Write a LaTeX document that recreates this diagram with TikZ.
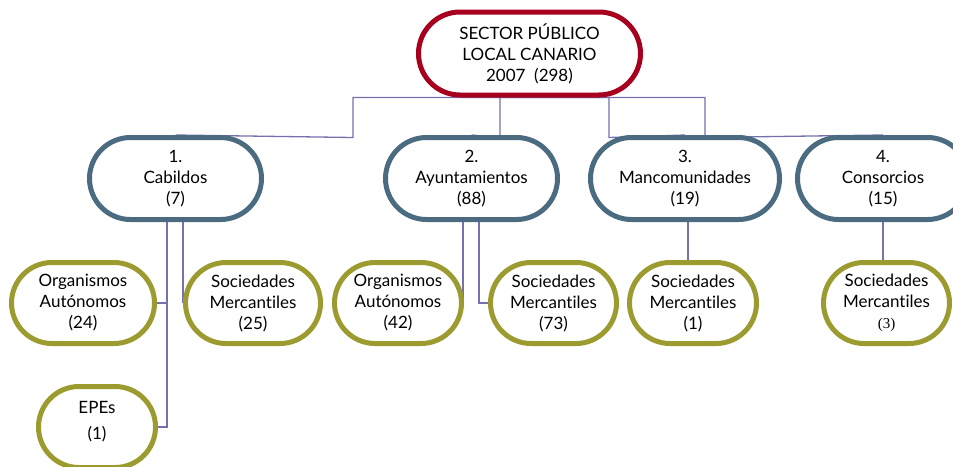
\documentclass[tikz,border=0pt]{standalone}
\usepackage{fontspec}
\setmainfont{Lato}[Ligatures=NoCommon]
\newfontfamily\numfont{Liberation Serif}
\usetikzlibrary{shapes.misc, backgrounds}
\definecolor{topred}{HTML}{A6001E}
\definecolor{midblue}{HTML}{4A6B80}
\definecolor{lowolive}{HTML}{9B9B30}
\definecolor{linkpurple}{HTML}{7570AE}

\begin{document}
\begin{tikzpicture}[x=1pt, y=-1pt,
    box/.style = {rounded rectangle, draw, fill=white, line width=5pt, align=center, inner sep=0pt,
                  font=\fontsize{17}{21}\selectfont},
    topbox/.style = {box, draw=topred, minimum width=222pt, minimum height=83pt},
    midbox/.style = {box, draw=midblue, minimum height=82pt},
    lowbox/.style = {box, draw=lowolive, minimum height=81pt},
    link/.style = {draw=linkpurple, line width=1.3pt}]
    \useasboundingbox (0,0) rectangle (953,466);
    \clip (0,0) rectangle (953,466);
    \node[topbox] (top) at (529.5,53.5) {SECTOR PÚBLICO\\LOCAL CANARIO\\2007\ \ (298)};
    \node[midbox, minimum width=172pt] (cab) at (175.5,178.5) {1.\\Cabildos\\(7)};
    \node[midbox, minimum width=172pt] (ayu) at (471.5,178.5) {2.\\Ayuntamientos\\(88)};
    \node[midbox, minimum width=189pt] (man) at (685,178.5) {3.\\Mancomunidades\\(19)};
    \node[midbox, minimum width=171pt] (con) at (883,178.5) {4.\\Consorcios\\(15)};
    \node[lowbox, minimum width=143pt] (oa24) at (83,303) {Organismos\\Autónomos\\(24)};
    \node[lowbox, minimum width=135pt] (sm25) at (253,303) {Sociedades\\Mercantiles\\(25)};
    \node[lowbox, minimum width=117pt] (epe) at (97,427) {EPEs\\[5pt](1)\\[-7pt]};
    \node[lowbox, minimum width=127pt] (oa42) at (398,303) {Organismos\\Autónomos\\(42)};
    \node[lowbox, minimum width=126pt] (sm73) at (553.5,303) {Sociedades\\Mercantiles\\(73)};
    \node[lowbox, minimum width=127pt] (sm1) at (693,303) {Sociedades\\Mercantiles\\(1)};
    \node[lowbox, minimum width=126pt] (sm3) at (886.5,303) {Sociedades\\Mercantiles\\{\numfont\fontsize{15}{21}\selectfont(3)}};
    \coordinate (j1) at (353,137.5);
    \coordinate (j2) at (500,137.5);
    \coordinate (j3) at (609,137.5);
    \coordinate (j4) at (705,137.5);
    \begin{scope}[on background layer]
        \draw[link] (top.south) -| (j1) -- (cab.north);
        \draw[link] (top.south) -| (j2) -- (ayu.north);
        \draw[link] (top.south) -| (j3) -- (man.north);
        \draw[link] (top.south) -| (j4) -- (con.north);
        \draw[link] ([xshift=-8.5pt]cab.south) |- (oa24.east);
        \draw[link] ([xshift=-8.5pt]cab.south) |- (epe.east);
        \draw[link] ([xshift=7.5pt]cab.south) |- (sm25.west);
        \draw[link] ([xshift=-8.5pt]ayu.south) |- (oa42.east);
        \draw[link] ([xshift=7.5pt]ayu.south) |- (sm73.west);
        \draw[link] ([xshift=3pt]man.south) -- ([xshift=3pt]man.south |- sm1.north);
        \draw[link] (con.south) -- (con.south |- sm3.north);
    \end{scope}
\end{tikzpicture}
\end{document}
